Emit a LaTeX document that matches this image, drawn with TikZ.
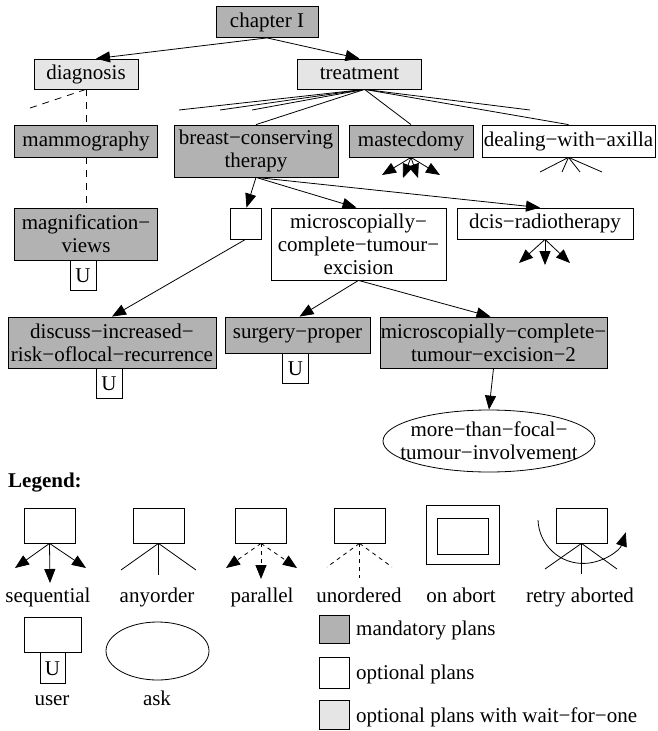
\documentclass[tikz,border=0pt]{standalone}
\usepackage{fontspec}
\setmainfont{Liberation Serif}
\usetikzlibrary{arrows.meta,shapes.geometric}
\definecolor{mandgray}{gray}{0.70}
\definecolor{waitgray}{gray}{0.90}
\tikzset{
  plan/.style={draw, line width=0.8pt, inner sep=0pt, align=center, font=\fontsize{21}{23}\selectfont},
  mandplan/.style={plan, fill=mandgray},
  optplan/.style={plan, fill=white},
  waitplan/.style={plan, fill=waitgray},
  sz/.style n args={2}{minimum width=#1pt, minimum height=#2pt},
  usr/.style={optplan, sz={26}{30}, anchor=north},
  arr/.style={line width=0.8pt, -{Triangle[length=14pt,width=11pt]}},
  lin/.style={line width=0.8pt},
  dsh/.style={line width=0.8pt, dash pattern=on 7pt off 6pt},
  lbl/.style={font=\fontsize{21}{23}\selectfont, inner sep=0pt, anchor=base},
}
\begin{document}
\begin{tikzpicture}[x=1pt,y=1pt]
\useasboundingbox[fill=white] (0,0) rectangle (657,-731);

% plan tree
\node[mandplan, sz={102}{31}] (chapter) at (267,-22) {chapter I};
\node[waitplan, sz={104}{30}] (diagnosis) at (86,-74) {diagnosis};
\node[waitplan, sz={124}{30}] (treatment) at (359.5,-74) {treatment};
\node[mandplan, sz={143}{32}] (mammo) at (86,-141) {mammography};
\node[mandplan, sz={164}{52}] (bct) at (256,-151) {breast−conserving\\therapy};
\node[mandplan, sz={124}{32}] (mast) at (411,-141) {mastecdomy};
\node[optplan, sz={173}{32}] (axilla) at (568.5,-141) {dealing−with−axilla};
\node[mandplan, sz={143}{52}] (magnif) at (86,-234) {magnification−\\views};
\node[usr] (magU) at ([xshift=-3pt]magnif.south) {U};
\node[optplan, sz={31}{31}] (empty) at (245.5,-223.5) {};
\node[optplan, sz={175}{72}] (micro) at (358.5,-244) {microscopially−\\complete−tumour−\\excision};
\node[optplan, sz={176}{31}] (dcis) at (545,-223.5) {dcis−radiotherapy};
\node[mandplan, sz={208}{51}] (discuss) at (112,-342.5) {discuss−increased−\\risk−oflocal−recurrence};
\node[usr] (discussU) at ([xshift=-3pt]discuss.south) {U};
\node[mandplan, sz={145}{36}] (surgery) at (297.5,-335) {surgery−proper};
\node[usr] (surgeryU) at ([xshift=-2pt]surgery.south) {U};
\node[mandplan, sz={227}{51}] (micro2) at (493.5,-342.5) {microscopially−complete−\\tumour−excision−2};
\node[plan, ellipse, fill=white, inner xsep=-14pt, inner ysep=0pt, sz={212}{62}] (focal) at (489,-441) {more−than−focal−\\tumour−involvement};

\draw[arr] (chapter.south) -- ([xshift=10pt]diagnosis.north);
\draw[arr] (chapter.south) -- (treatment.north);

% diagnosis: unordered
\coordinate (ds1) at (27,-109);
\draw[dsh] (diagnosis.south) -- (ds1);
\draw[dsh] (diagnosis.south) -- (mammo.north);
\draw[dsh] (mammo.south) -- (magnif.north);

% treatment: anyorder
\coordinate (tfan) at ([xshift=5pt]treatment.south);
\coordinate (ts1) at (179,-110);
\coordinate (ts2) at (220,-110);
\coordinate (ts3) at (252,-110);
\coordinate (ts4) at (530,-110);
\foreach \c in {ts1,ts2,ts3,ts4,bct.north,mast.north,axilla.north}
  \draw[lin] (tfan) -- (\c);

% mastecdomy: sequential
\coordinate (ms1) at (382,-175);
\coordinate (ms2) at (403,-178);
\coordinate (ms3) at (418,-178);
\coordinate (ms4) at (440,-175);
\foreach \c in {ms1,ms2,ms3,ms4}
  \draw[arr] (mast.south) -- (\c);

% dealing-with-axilla: anyorder
\coordinate (as1) at (540,-172);
\coordinate (as2) at (562,-172);
\coordinate (as3) at (580,-172);
\coordinate (as4) at (602,-172);
\foreach \c in {as1,as2,as3,as4}
  \draw[lin] (axilla.south) -- (\c);

\draw[arr] (bct.south) -- ([xshift=1pt]empty.north);
\draw[arr] (bct.south) -- ([xshift=-2pt]micro.north);
\draw[arr] (bct.south) -- ([xshift=-5pt]dcis.north);
\draw[arr] (empty.south) -- (discuss.north);

% dcis-radiotherapy: sequential
\coordinate (rs1) at (519,-263);
\coordinate (rs2) at (545,-265);
\coordinate (rs3) at (570,-263);
\foreach \c in {rs1,rs2,rs3}
  \draw[arr] (dcis.south) -- (\c);

\draw[arr] (micro.south) -- ([xshift=2pt]surgery.north);
\draw[arr] (micro.south) -- ([xshift=-3pt]micro2.north);
\draw[arr] (micro2.south) -- (focal.north);

% legend
\node[lbl, anchor=west, font=\fontsize{21}{23}\selectfont\bfseries] (legend) at (8,-483) {Legend:};

\node[optplan, sz={51}{35}] (seqL) at (49.5,-525.5) {};
\node[optplan, sz={51}{35}] (anyL) at (158.5,-525.5) {};
\node[optplan, sz={51}{35}] (parL) at (261,-525.5) {};
\node[optplan, sz={51}{35}] (unoL) at (359.5,-525.5) {};
\node[optplan, sz={73}{59}] (abortL) at (462.5,-534.5) {};
\node[optplan, sz={51}{36}] (abortIn) at (462.5,-536) {};
\node[optplan, sz={51}{35}] (retryL) at (581.5,-525.5) {};

\coordinate (sq1) at (15,-568);
\coordinate (sq2) at (50,-583);
\coordinate (sq3) at (86,-568);
\foreach \c in {sq1,sq2,sq3}
  \draw[arr] (seqL.south) -- (\c);

\coordinate (ao1) at (121,-570);
\coordinate (ao2) at (158.5,-575);
\coordinate (ao3) at (196,-570);
\foreach \c in {ao1,ao2,ao3}
  \draw[lin] (anyL.south) -- (\c);

\coordinate (pa1) at (226,-568);
\coordinate (pa2) at (261,-579);
\coordinate (pa3) at (297,-568);
\foreach \c in {pa1,pa2,pa3}
  \draw[arr, dash pattern=on 4pt off 4pt] (parL.south) -- (\c);

\coordinate (un1) at (327,-567);
\coordinate (un2) at (359.5,-578);
\coordinate (un3) at (392,-567);
\foreach \c in {un1,un2,un3}
  \draw[lin, dash pattern=on 4pt off 4pt] (unoL.south) -- (\c);

\coordinate (re1) at (545,-569);
\coordinate (re2) at (581.5,-574);
\coordinate (re3) at (617,-569);
\foreach \c in {re1,re2,re3}
  \draw[lin] (retryL.south) -- (\c);
\draw[arr] (538,-520) arc[start angle=182, end angle=342, radius=45pt];

\node[lbl] (seqT) at (48,-602) {sequential};
\node[lbl] (anyT) at (157,-602) {anyorder};
\node[lbl] (parT) at (262,-602) {parallel};
\node[lbl] (unoT) at (359,-602) {unordered};
\node[lbl] (abortT) at (461,-602) {on abort};
\node[lbl] (retryT) at (580,-602) {retry aborted};

\node[optplan, sz={57}{35}] (userL) at (52.5,-634.5) {};
\node[usr, sz={25}{31}] (userU) at (userL.south) {U};
\node[lbl] (userT) at (52,-705) {user};
\node[plan, ellipse, fill=white, sz={103}{58}] (askL) at (157.5,-651) {};
\node[lbl] (askT) at (157,-705) {ask};

\node[mandplan, sz={30}{28}] (mandL) at (334,-629.5) {};
\node[optplan, sz={30}{31}] (optL) at (334,-672.5) {};
\node[waitplan, sz={30}{29}] (waitL) at (334,-714.5) {};
\node[lbl, anchor=base west] (mandT) at (356,-635) {mandatory plans};
\node[lbl, anchor=base west] (optT) at (356,-679) {optional plans};
\node[lbl, anchor=base west] (waitT) at (356,-722) {optional plans with wait−for−one};
\end{tikzpicture}
\end{document}
